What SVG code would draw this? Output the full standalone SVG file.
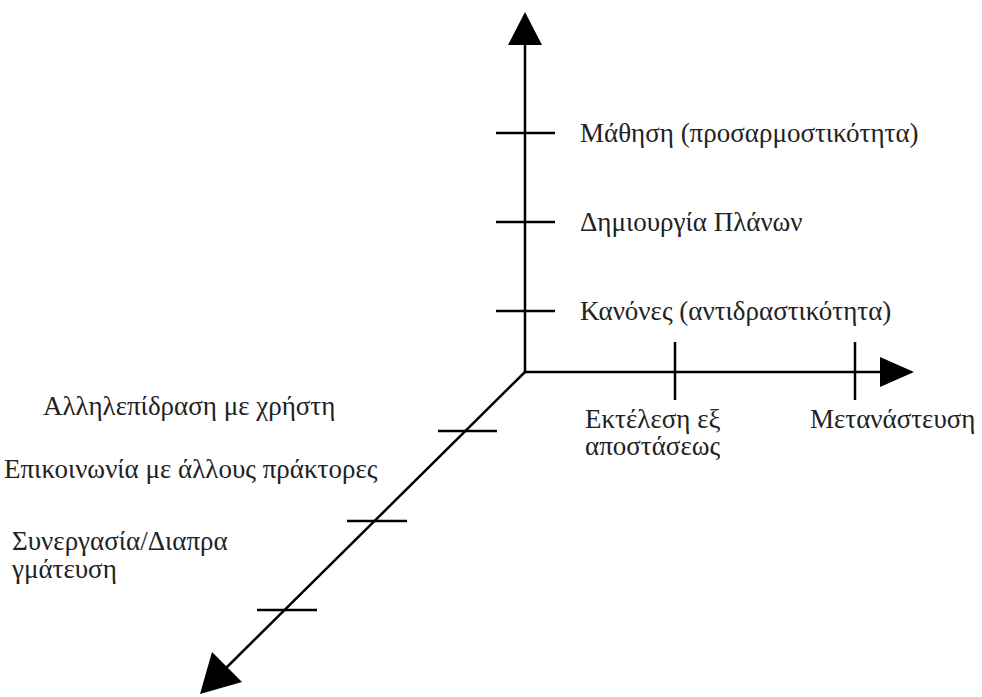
<svg xmlns="http://www.w3.org/2000/svg" width="982" height="697" viewBox="0 0 982 697">
<style>
.ax{stroke:#000;stroke-width:2.5;fill:none}
.tk{stroke:#000;stroke-width:2.5}
.ah{fill:#000}
.lb{font-family:"Liberation Serif","Times New Roman",serif;font-size:27px;fill:#222}
</style>
<rect width="982" height="697" fill="#fff"/>
<g id="connectors">
<line class="ax" x1="525" y1="372" x2="525" y2="44"/>
<polygon class="ah" points="525,12 508,45 542,45"/>
<line class="ax" x1="525" y1="372" x2="882" y2="372"/>
<polygon class="ah" points="914,372 880,357 880,387"/>
<line class="ax" x1="525" y1="372" x2="222" y2="672"/>
<polygon class="ah" points="200,694 212,652 242,682"/>
</g>
<g id="ticks">
<line class="tk" x1="496" y1="133" x2="555" y2="133"/>
<line class="tk" x1="496" y1="222" x2="555" y2="222"/>
<line class="tk" x1="496" y1="311" x2="555" y2="311"/>
<line class="tk" x1="675" y1="342" x2="675" y2="400"/>
<line class="tk" x1="855" y1="342" x2="855" y2="400"/>
<line class="tk" x1="438" y1="431" x2="497" y2="431"/>
<line class="tk" x1="347" y1="521" x2="407" y2="521"/>
<line class="tk" x1="257" y1="610" x2="317" y2="610"/>
</g>
<g id="n-mathisi"><text class="lb" x="580" y="142">Μάθηση (προσαρμοστικότητα)</text></g>
<g id="n-plana"><text class="lb" x="580" y="231">Δημιουργία Πλάνων</text></g>
<g id="n-kanones"><text class="lb" x="580" y="320">Κανόνες (αντιδραστικότητα)</text></g>
<g id="n-ektelesi"><text class="lb" x="585" y="428">Εκτέλεση εξ</text><text class="lb" x="585" y="455">αποστάσεως</text></g>
<g id="n-metanastefsi"><text class="lb" x="810" y="428">Μετανάστευση</text></g>
<g id="n-allilepidrasi"><text class="lb" x="43" y="415">Αλληλεπίδραση με χρήστη</text></g>
<g id="n-epikoinonia"><text class="lb" x="4" y="478">Επικοινωνία με άλλους πράκτορες</text></g>
<g id="n-synergasia"><text class="lb" x="12" y="550">Συνεργασία/Διαπρα</text><text class="lb" x="12" y="578">γμάτευση</text></g>
</svg>
